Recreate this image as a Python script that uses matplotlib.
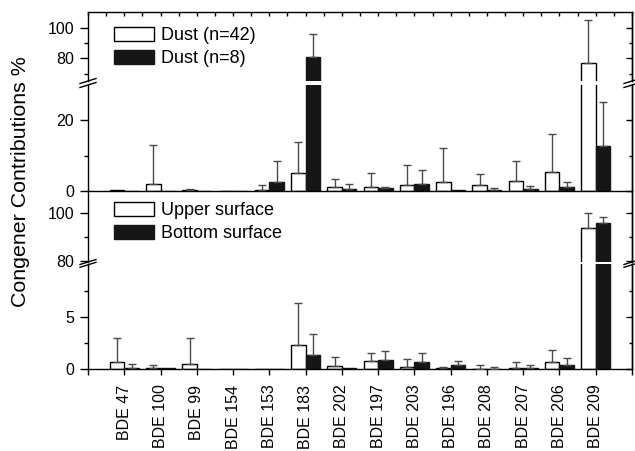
import numpy as np
import matplotlib
matplotlib.use("Agg")
import matplotlib.pyplot as plt
from matplotlib.lines import Line2D
from matplotlib.patches import Patch

plt.rcParams['font.family'] = ['Liberation Sans', 'DejaVu Sans']

categories = ["BDE 47", "BDE 100", "BDE 99", "BDE 154", "BDE 153", "BDE 183", "BDE 202",
              "BDE 197", "BDE 203", "BDE 196", "BDE 208", "BDE 207", "BDE 206", "BDE 209"]

# Top panel: dust
dust42_mean = [0.15, 2.0, 0.3, 0.1, 0.3, 5.1, 1.0, 1.1, 1.6, 2.6, 1.6, 2.8, 5.3, 77.1]
dust42_err = [0.05, 11.0, 0.2, 0.0, 1.4, 8.6, 2.3, 3.9, 5.8, 9.4, 3.1, 5.8, 10.8, 27.7]
dust8_mean = [0.05, 0.1, 0.05, 0.0, 2.4, 80.7, 0.65, 0.75, 1.9, 0.2, 0.4, 0.6, 1.2, 12.8]
dust8_err = [0.0, 0.0, 0.0, 0.0, 6.2, 15.0, 1.25, 0.25, 3.9, 0.0, 0.35, 0.9, 1.4, 12.2]

# Bottom panel: surfaces
upper_mean = [0.67, 0.1, 0.47, 0.03, 0.0, 2.3, 0.28, 0.82, 0.25, 0.1, 0.07, 0.15, 0.73, 93.7]
upper_err = [2.28, 0.34, 2.48, 0.0, 0.0, 4.0, 0.89, 0.73, 0.75, 0.1, 0.34, 0.58, 1.14, 6.4]
bottom_mean = [0.12, 0.08, 0.0, 0.0, 0.0, 1.4, 0.08, 0.88, 0.7, 0.44, 0.05, 0.1, 0.38, 95.8]
bottom_err = [0.36, 0.0, 0.0, 0.0, 0.0, 2.0, 0.0, 0.89, 0.9, 0.35, 0.2, 0.28, 0.72, 2.5]

W, H = 635, 451
fig = plt.figure(figsize=(W / 100, H / 100), dpi=100)

LEFT, RIGHT = 88, 632


def add_ax(top_px, bot_px):
    ax = fig.add_axes([LEFT / W, 1 - bot_px / H, (RIGHT - LEFT) / W, (bot_px - top_px) / H])
    ax.set_facecolor('none')
    return ax


a1 = add_ax(11.7, 81.0)
a2 = add_ax(85.0, 191.0)
a3 = add_ax(191.0, 262.0)
a4 = add_ax(264.3, 369.3)

x = np.arange(len(categories))
bw = 0.4
white_kw = dict(color='white', edgecolor='black', linewidth=1.0, zorder=2)
black_kw = dict(color='#161616', edgecolor='#161616', linewidth=1.0, zorder=2)
err_kw = dict(fmt='none', ecolor='#4a4a4a', elinewidth=1.0, capsize=3, capthick=1.0, zorder=3)


def draw(ax, m1, e1, m2, e2):
    ax.bar(x - bw / 2, m1, bw, **white_kw)
    ax.bar(x + bw / 2, m2, bw, **black_kw)
    for xs, m, e in ((x - bw / 2, m1, e1), (x + bw / 2, m2, e2)):
        m = np.array(m); e = np.array(e)
        sel = e > 0.05
        ax.errorbar(xs[sel], m[sel], yerr=[np.zeros(sel.sum()), e[sel]], **err_kw)


for ax in (a1, a2):
    draw(ax, dust42_mean, dust42_err, dust8_mean, dust8_err)
for ax in (a3, a4):
    draw(ax, upper_mean, upper_err, bottom_mean, bottom_err)

a1.set_ylim(65.2, 110.5)
a2.set_ylim(0, 29.9)
a3.set_ylim(79.45, 109.4)
a4.set_ylim(0, 10)

yt = {a1: ([80, 100], [70, 90]), a2: ([0, 20], [10]), a3: ([80, 100], [90]), a4: ([0, 5], [2.5, 7.5])}

for ax in (a1, a2, a3, a4):
    ax.set_xlim(-1, 14)
    for s in ax.spines.values():
        s.set_linewidth(1.0)
    maj, mnr = yt[ax]
    ax.set_yticks(maj)
    ax.set_yticks(mnr, minor=True)
    ax.tick_params(axis='y', which='major', direction='out', length=6, width=1.0,
                   labelsize=11.5, pad=4)
    ax.tick_params(axis='y', which='minor', direction='out', length=3, width=1.0)
    sec = ax.secondary_yaxis('right')
    sec.set_yticks(maj)
    sec.set_yticks(mnr, minor=True)
    sec.tick_params(axis='y', which='major', direction='in', length=4, width=1.0, labelright=False)
    sec.tick_params(axis='y', which='minor', direction='in', length=2.5, width=1.0)
    sec.spines['right'].set_linewidth(1.0)

a1.spines['bottom'].set_visible(False)
a2.spines['top'].set_visible(False)
a3.spines['top'].set_visible(False)
a4.spines['top'].set_visible(False)
a3.spines['bottom'].set_visible(False)

# x ticks
a1.set_xticks(np.arange(-1, 15))
a1.set_xticks(np.arange(-0.5, 14, 1.0), minor=True)
a1.tick_params(axis='x', which='both', top=True, bottom=False, labelbottom=False,
               direction='in', length=3, width=1.0)
for ax in (a2, a3):
    ax.set_xticks([])
a4.set_xticks(np.arange(-1, 15))
a4.set_xticklabels([''] + categories + [''], rotation=90)
a4.tick_params(axis='x', which='major', direction='out', length=4, width=1.0,
               labelsize=11.5, pad=7)

# break marks
def brk(xp, yp):
    for dy in yp:
        fig.add_artist(Line2D([(xp - 8) / W, (xp + 8) / W],
                              [1 - (dy + 2.5) / H, 1 - (dy - 2.5) / H],
                              transform=fig.transFigure, color='black', lw=1.0, clip_on=False))

brk(LEFT, [81.0, 85.0])
brk(RIGHT, [81.0, 85.0])
brk(LEFT, [262.0, 264.8])
brk(RIGHT, [262.0, 264.8])

# legends
leg_kw = dict(loc='upper left', frameon=False, fontsize=13, handlelength=2.2, handleheight=0.85,
              handletextpad=0.4, labelspacing=0.3, borderpad=0, borderaxespad=0)
h1 = [Patch(facecolor='white', edgecolor='black', linewidth=1.0),
      Patch(facecolor='#161616', edgecolor='#161616', linewidth=1.0)]
a1.legend(h1, ['Dust (n=42)', 'Dust (n=8)'], bbox_to_anchor=(114 / W, 1 - 27 / H),
          bbox_transform=fig.transFigure, **leg_kw)
a3.legend(h1, ['Upper surface', 'Bottom surface'], bbox_to_anchor=(114 / W, 1 - 202 / H),
          bbox_transform=fig.transFigure, **leg_kw)

fig.text(21 / W, 1 - 182 / H, 'Congener Contributions %', rotation=90, fontsize=15.4,
         ha='center', va='center')

fig.savefig('out.png', dpi=100)
